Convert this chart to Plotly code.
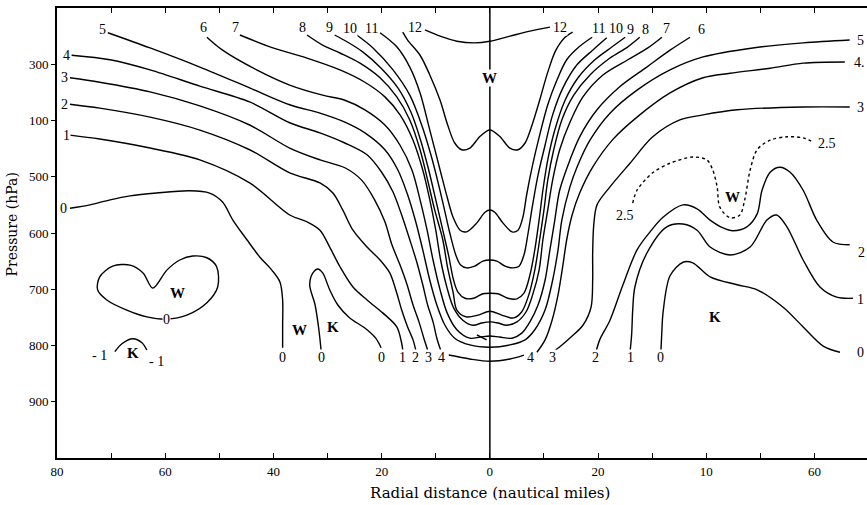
import plotly.graph_objects as go

# Isotherms of the temperature anomaly (deg C) in a radius-pressure section.
# r = radial distance in nautical miles (negative = left half of the section)
# p = pressure in hPa

iso0_left_r = [-77.6, -73.9, -70.2, -66.5, -61.6, -55.5, -51.8, -49.4, -47.5, -44.9, -42.5, -40.3, -38.8, -38.3, -38.3, -38.3]
iso0_left_p = [556, 550, 541, 534, 529, 525, 529, 545, 577, 612, 643, 666, 687, 719, 764, 804]

iso0_heart_r = [-62.3, -64.1, -66.5, -69.7, -72.1, -72.5, -70.8, -67.1, -63.4, -59.7, -56.0, -52.3, -50.3, -50.5, -52.3, -54.9, -57.3, -59.7, -62.3]
iso0_heart_p = [698, 671, 657, 659, 678, 701, 719, 737, 749, 753, 746, 724, 696, 660, 644, 641, 648, 666, 698]

isom1_r = [-69.3, -68.0, -66.0, -64.3, -63.4]
isom1_p = [811, 797, 788, 795, 808]

iso0_mid_r = [-31.2, -31.6, -32.3, -33.3, -32.7, -31.8, -30.9, -29.6, -28.1, -25.9, -23.1, -21.1, -20.1]
iso0_mid_p = [808, 772, 728, 692, 671, 664, 671, 701, 728, 751, 769, 787, 804]

iso0_right_r = [31.6, 31.8, 32.0, 33.3, 35.7, 37.5, 40.7, 45.7, 49.4, 54.2, 57.9, 61.6, 64.7]
iso0_right_p = [812, 772, 742, 676, 652, 653, 678, 692, 701, 732, 767, 801, 812]

iso1_left_r = [-77.6, -72.1, -62.8, -53.6, -44.4, -37.0, -33.8, -31.4, -29.6, -27.7, -25.3, -22.7, -19.8, -17.2, -16.3, -16.1]
iso1_left_p = [426, 433, 449, 470, 511, 568, 580, 595, 625, 660, 696, 719, 742, 767, 796, 808]
iso1_right_r = [25.9, 26.2, 26.4, 26.8, 29.0, 32.7, 35.7, 38.3, 40.7, 44.4, 48.1, 51.2, 53.0, 54.9, 57.9, 61.0, 64.1, 67.1]
iso1_right_p = [812, 781, 737, 696, 636, 589, 584, 595, 625, 639, 625, 577, 568, 589, 648, 696, 714, 716]

iso2_left_r = [-77.6, -72.1, -62.8, -53.6, -44.4, -37.0, -31.4, -29.0, -27.2, -25.3, -22.7, -20.3, -18.5, -17.2, -16.3, -15.2, -14.2, -13.7]
iso2_left_p = [371, 378, 394, 417, 452, 493, 511, 529, 559, 595, 625, 648, 671, 707, 737, 767, 790, 808]
iso2_right_r = [19.6, 20.3, 22.2, 24.6, 27.2, 29.6, 32.0, 35.7, 38.3, 40.7, 43.1, 44.9, 47.5, 49.4, 50.3, 51.8, 53.6, 55.5, 57.9, 60.4, 63.4, 66.5]
iso2_right_p = [812, 790, 755, 692, 630, 598, 572, 550, 557, 577, 591, 596, 589, 566, 524, 492, 483, 492, 524, 577, 616, 621]

iso25_r = [26.4, 27.2, 30.1, 33.3, 37.5, 40.1, 41.2, 42.0, 42.5, 44.4, 46.2, 47.1, 48.1, 49.4, 51.8, 54.9, 57.9, 59.7]
iso25_p = [547, 524, 493, 476, 465, 470, 488, 518, 554, 573, 568, 541, 488, 452, 435, 429, 431, 438]

iso3_left_r = [-77.6, -72.1, -62.8, -53.6, -44.4, -37.0, -31.4, -26.8, -23.7, -21.3, -19.4, -18.1, -16.6, -15.3, -14.2, -13.1, -12.2, -11.5]
iso3_left_p = [324, 332, 349, 374, 408, 449, 470, 484, 506, 541, 580, 621, 657, 692, 728, 758, 787, 808]
iso3_right_r = [11.6, 13.1, 15.0, 17.2, 18.7, 19.0, 19.0, 19.2, 19.8, 22.2, 25.9, 30.1, 35.1, 39.4, 45.7, 57.9, 66.5]
iso3_right_p = [812, 801, 785, 764, 732, 684, 636, 586, 550, 518, 476, 429, 399, 390, 381, 376, 376]

iso4_left_r = [-77.3, -70.2, -62.8, -53.6, -44.4, -37.0, -31.4, -26.8, -22.7, -20.0, -17.9, -16.3, -14.8, -13.5, -12.4, -11.5, -10.5, -9.8, -9.1]
iso4_left_p = [284, 292, 310, 339, 367, 404, 422, 440, 461, 492, 527, 568, 612, 652, 692, 728, 758, 787, 808]
iso4_base_r = [-7.6, -3.7, 0.0, 3.7, 6.3]
iso4_base_p = [817, 824, 828, 824, 817]
iso4_right_r = [8.7, 10.2, 11.5, 12.6, 13.5, 14.2, 15.2, 16.6, 19.0, 22.7, 27.2, 33.3, 39.4, 44.4, 51.8, 57.9, 65.6]
iso4_right_p = [812, 790, 755, 710, 657, 612, 568, 529, 483, 434, 394, 351, 324, 316, 307, 298, 296]

iso5_r = [-70.6, -62.8, -53.6, -44.4, -37.0, -31.4, -26.8, -23.1, -19.4, -17.0, -15.2, -13.7, -12.4, -11.1, -9.8, -8.3, -6.5, -3.7, 0.0,
          3.7, 6.5, 8.3, 10.2, 11.6, 12.6, 13.3, 14.8, 16.1, 18.5, 22.2, 27.2, 33.3, 39.4, 48.6, 57.9, 66.5]
iso5_p = [244, 271, 305, 342, 372, 387, 403, 422, 452, 488, 532, 580, 630, 684, 728, 764, 787, 799, 803,
          799, 790, 772, 737, 684, 630, 577, 518, 483, 435, 387, 346, 310, 287, 271, 262, 257]

iso6_r = [-52.3, -49.4, -43.1, -37.0, -30.9, -26.8, -23.1, -19.4, -16.6, -14.4, -12.9, -11.6, -10.5, -9.2, -7.9, -6.1, -3.7, -1.8, 0.0,
          1.8, 4.1, 5.9, 7.4, 8.9, 10.2, 11.1, 12.0, 12.9, 14.8, 16.6, 19.8, 24.0, 29.0, 33.3, 37.0]
iso6_p = [252, 275, 310, 337, 355, 364, 381, 408, 444, 488, 541, 595, 648, 701, 742, 772, 787, 785, 783,
          785, 787, 778, 758, 728, 684, 630, 577, 524, 470, 429, 381, 340, 305, 275, 252]

iso7_r = [-46.2, -40.1, -33.8, -27.7, -23.1, -19.4, -16.6, -14.2, -12.4, -11.1, -10.0, -9.1, -7.9, -6.7, -5.0, -3.1, -1.5, 0.0,
          1.5, 3.1, 5.0, 6.7, 7.9, 9.1, 9.8, 10.7, 11.6, 12.9, 14.8, 17.2, 20.9, 25.5, 29.2, 31.8]
iso7_p = [248, 271, 289, 310, 332, 358, 390, 435, 488, 541, 595, 648, 698, 733, 755, 764, 760, 758,
          760, 764, 758, 740, 710, 666, 612, 559, 506, 452, 403, 358, 319, 292, 271, 252]

iso8_r = [-33.8, -30.9, -27.7, -24.0, -20.3, -17.2, -14.8, -12.9, -11.5, -10.2, -8.7, -7.8, -6.8, -6.1, -4.4, -2.2, 0.0,
          2.2, 4.4, 5.9, 7.2, 8.3, 9.2, 10.0, 10.7, 11.8, 13.3, 15.5, 18.5, 22.2, 25.5, 27.7]
iso8_p = [248, 266, 280, 298, 324, 358, 399, 452, 506, 559, 612, 662, 705, 737, 749, 746, 739,
          746, 751, 740, 710, 666, 612, 559, 506, 452, 399, 355, 319, 289, 269, 252]

iso9_r = [-28.7, -26.4, -23.5, -20.1, -17.0, -14.6, -12.8, -11.3, -10.0, -8.7, -7.6, -6.7, -5.9, -4.6, -3.0, -1.3, 0.0,
          1.5, 3.3, 5.0, 6.3, 7.4, 8.3, 9.1, 9.8, 10.7, 12.0, 13.9, 16.3, 19.4, 22.6, 25.0]
iso9_p = [248, 260, 278, 307, 342, 385, 435, 488, 541, 595, 641, 684, 705, 716, 716, 708, 707,
          708, 716, 717, 707, 675, 630, 577, 524, 470, 417, 364, 324, 292, 269, 252]

iso10_r = [-24.6, -21.6, -17.9, -14.8, -12.6, -10.9, -9.6, -8.5, -7.4, -6.3, -5.4, -4.3, -2.8, -1.3, 0.0,
           1.3, 2.8, 4.3, 5.4, 6.3, 7.0, 7.9, 8.9, 10.2, 11.6, 13.5, 16.1, 19.0, 21.6]
iso10_p = [248, 271, 310, 355, 408, 461, 509, 554, 600, 639, 657, 662, 659, 650, 648,
           650, 659, 662, 659, 639, 604, 550, 497, 444, 390, 342, 301, 275, 253]

iso11_r = [-20.3, -17.2, -14.8, -12.9, -11.1, -9.2, -7.9, -6.8, -5.5, -4.3, -2.4, -0.9, 0.0,
           0.9, 2.4, 4.1, 5.2, 6.1, 6.8, 7.9, 9.2, 10.7, 12.4, 14.2, 16.5, 18.9]
iso11_p = [244, 269, 305, 351, 417, 488, 536, 572, 595, 598, 582, 563, 559,
           563, 582, 598, 595, 572, 532, 479, 426, 372, 328, 292, 269, 252]

iso12_loop_r = [-16.1, -15.2, -12.9, -11.1, -9.2, -7.8, -6.5, -5.2, -3.7, -1.8, 0.0, 1.8, 3.7, 5.2, 6.5, 7.8, 9.2, 10.7, 12.2, 13.9, 15.3]
iso12_loop_p = [243, 257, 284, 319, 364, 408, 440, 452, 449, 428, 417, 428, 449, 452, 440, 408, 364, 314, 275, 252, 243]
iso12_top_r = [-12.0, -9.2, -6.1, -2.8, 0.0, 3.7, 7.4, 11.1]
iso12_top_p = [239, 250, 259, 262, 259, 250, 241, 234]

mark_r = [-2.4, -0.6]
mark_p = [781, 790]

# Contour value labels (text, r, p)
value_text = ["5", "6", "7", "8", "9", "10", "11", "12", "12", "11", "10", "9", "8", "7", "6",
              "4", "3", "2", "1", "0",
              "0", "0", "0", "1", "2", "3", "4", "4", "3", "2", "1", "0",
              "0", "- 1", "- 1", "2.5", "2.5"]
value_r = [-71.5, -53.0, -47.1, -34.6, -29.6, -25.9, -21.8, -13.9, 12.9, 20.0, 23.3, 25.9, 28.7, 32.7, 39.2,
           -78.2, -78.6, -78.6, -78.2, -78.8,
           -38.4, -31.2, -20.0, -16.1, -13.7, -11.3, -8.9, 7.6, 11.6, 19.6, 25.9, 31.6,
           -59.7, -72.1, -61.6, 25.0, 62.3]
value_p = [239, 234, 234, 234, 234, 236, 236, 234, 234, 236, 236, 239, 239, 236, 239,
           284, 324, 371, 426, 557,
           822, 822, 822, 822, 822, 822, 822, 822, 822, 822, 822, 822,
           753, 817, 829, 568, 440]

# Labels at the right-hand edge of the section
edge_text = ["5", "4.", "3", "2", "1", "0"]
edge_r = [67.6, 67.2, 67.6, 67.8, 67.6, 67.6]
edge_p = [257, 296, 376, 634, 719, 812]

# Warm (W) and cold (K) centres
centre_text = ["W", "W", "W", "K", "K", "W", "K"]
centre_r = [0.0, -57.7, -35.1, -29.0, -66.0, 44.9, 41.6]
centre_p = [325, 707, 772, 767, 813, 536, 749]

# Axis ticks
x_tickvals = [-80, -70, -60, -50, -40, -30, -20, -10, 0, 10, 20, 30, 40, 50, 60]
x_ticktext = ["80", "", "60", "", "40", "", "20", "", "0", "", "20", "", "10", "", "60"]
y_tickvals = [300, 400, 500, 600, 700, 800, 900]
y_ticktext = ["300", "100", "500", "600", "700", "800", "900"]

SERIF = "Liberation Serif, Times New Roman, serif"

segments = [
    (iso0_left_r, iso0_left_p, "solid"),
    (iso0_heart_r, iso0_heart_p, "solid"),
    (isom1_r, isom1_p, "solid"),
    (iso0_mid_r, iso0_mid_p, "solid"),
    (iso0_right_r, iso0_right_p, "solid"),
    (iso1_left_r, iso1_left_p, "solid"),
    (iso1_right_r, iso1_right_p, "solid"),
    (iso2_left_r, iso2_left_p, "solid"),
    (iso2_right_r, iso2_right_p, "solid"),
    (iso25_r, iso25_p, "dot"),
    (iso3_left_r, iso3_left_p, "solid"),
    (iso3_right_r, iso3_right_p, "solid"),
    (iso4_left_r, iso4_left_p, "solid"),
    (iso4_base_r, iso4_base_p, "solid"),
    (iso4_right_r, iso4_right_p, "solid"),
    (iso5_r, iso5_p, "solid"),
    (iso6_r, iso6_p, "solid"),
    (iso7_r, iso7_p, "solid"),
    (iso8_r, iso8_p, "solid"),
    (iso9_r, iso9_p, "solid"),
    (iso10_r, iso10_p, "solid"),
    (iso11_r, iso11_p, "solid"),
    (iso12_loop_r, iso12_loop_p, "solid"),
    (iso12_top_r, iso12_top_p, "solid"),
    (mark_r, mark_p, "solid"),
]

fig = go.Figure()

# storm-centre axis
fig.add_trace(go.Scatter(x=[0, 0], y=[200, 1000], mode="lines",
                         line=dict(color="black", width=1.5),
                         hoverinfo="skip", showlegend=False))

for r, p, dash in segments:
    fig.add_trace(go.Scatter(
        x=r, y=p, mode="lines",
        line=dict(color="black", width=1.4, shape="spline", smoothing=0.9, dash=dash),
        hoverinfo="skip", showlegend=False))

annotations = []
for t, r, p in zip(value_text, value_r, value_p):
    annotations.append(dict(x=r, y=p, text=t, showarrow=False, xanchor="center", yanchor="middle",
                            font=dict(family=SERIF, size=14, color="black"),
                            bgcolor="white", borderpad=0))
for t, r, p in zip(edge_text, edge_r, edge_p):
    annotations.append(dict(x=r, y=p, text=t, showarrow=False, xanchor="left", yanchor="middle",
                            font=dict(family=SERIF, size=14, color="black"),
                            bgcolor="white", borderpad=0))
for t, r, p in zip(centre_text, centre_r, centre_p):
    annotations.append(dict(x=r, y=p, text="<b>" + t + "</b>", showarrow=False,
                            xanchor="center", yanchor="middle",
                            font=dict(family=SERIF, size=15, color="black"),
                            bgcolor="white", borderpad=0))

annotations.append(dict(x=0, xref="x", y=-0.078, yref="paper", text="Radial distance (nautical miles)",
                        showarrow=False, xanchor="center", yanchor="middle",
                        font=dict(family="DejaVu Serif, serif", size=15, color="black")))
annotations.append(dict(x=-0.055, xref="paper", y=0.52, yref="paper", text="Pressure (hPa)",
                        textangle=-90, showarrow=False, xanchor="center", yanchor="middle",
                        font=dict(family="DejaVu Serif, serif", size=14, color="black")))

fig.update_layout(
    width=867, height=505,
    margin=dict(l=57, r=0, t=8, b=47),
    paper_bgcolor="white", plot_bgcolor="white",
    annotations=annotations,
    xaxis=dict(range=[-80, 69.7], tickmode="array", tickvals=x_tickvals, ticktext=x_ticktext,
               ticks="inside", ticklen=5, tickwidth=1.2, tickcolor="black",
               showline=True, linecolor="black", linewidth=2, mirror="ticks",
               showgrid=False, zeroline=False,
               tickfont=dict(family=SERIF, size=13, color="black")),
    yaxis=dict(range=[1000, 200], tickmode="array", tickvals=y_tickvals, ticktext=y_ticktext,
               ticks="outside", ticklen=4, tickwidth=1.2, tickcolor="black",
               showline=True, linecolor="black", linewidth=2, mirror=False,
               showgrid=False, zeroline=False,
               tickfont=dict(family=SERIF, size=13, color="black")),
)

fig.write_html("out.html")
